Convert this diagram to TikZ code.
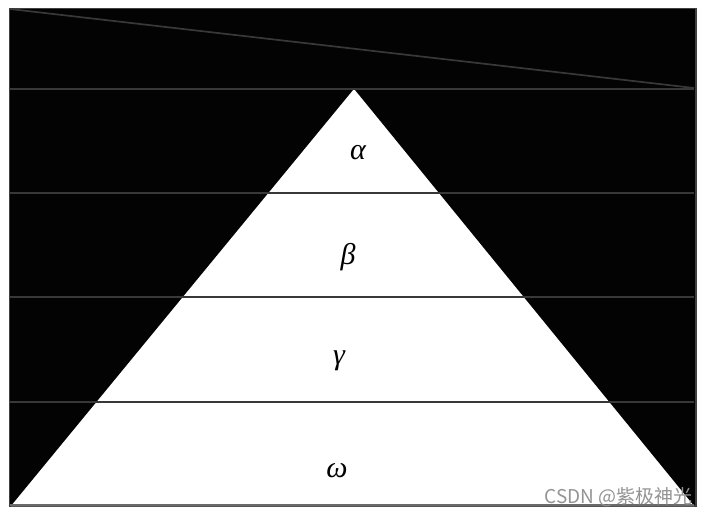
\documentclass[tikz,border=0pt]{standalone}
\usepackage{fontspec}
\newfontfamily\cjkfont{Noto Sans CJK SC}
\newfontfamily\greekfont{Liberation Serif}
\begin{document}
\begin{tikzpicture}[x=1pt,y=-1pt,
  greek/.style={font=\greekfont\itshape\fontsize{30}{32}\selectfont, inner sep=0pt},
  gridline/.style={draw=black!78, line width=1.7pt},
  mark text/.style={font=\cjkfont\fontsize{19}{21}\selectfont, text=black!42, inner sep=0pt, anchor=east}]
\useasboundingbox (0,0) rectangle (708,517);
\fill[white] (0,0) rectangle (708,517);
% frame
\coordinate (TL) at (9.5,8.5);
\coordinate (BR) at (696,506);
\filldraw[fill=black!99, draw=black!75, line width=1.5pt] (TL) rectangle (BR);
% pyramid
\coordinate (apex) at (354,89);
\coordinate (bl) at (11,506);
\coordinate (br) at (694,506);
\fill[white] (apex) -- (bl) -- (br) -- cycle;
% diagonal line
\coordinate (d1) at (10,9);
\coordinate (d2) at (694,88);
\draw[gridline] (d1) -- (d2);
% horizontal lines
\foreach \y/\n in {89/h1,193/h2,297/h3,402/h4}{
  \coordinate (\n l) at (10,\y);
  \coordinate (\n r) at (694,\y);
  \draw[gridline] (\n l) -- (\n r);
}
\coordinate (bbl) at (10,505);
\coordinate (bbr) at (694,505);
\draw[draw=black!58, line width=2.2pt] (bbl) -- (bbr);
% labels
\node[greek] (alpha) at (358,153) {α};
\node[greek] (beta) at (348,257) {β};
\node[greek] (gamma) at (339,361) {γ};
\node[greek] (omega) at (337,471) {ω};
% watermark
\node[mark text] (wm) at (693,497) {CSDN @紫极神光};
\end{tikzpicture}
\end{document}
